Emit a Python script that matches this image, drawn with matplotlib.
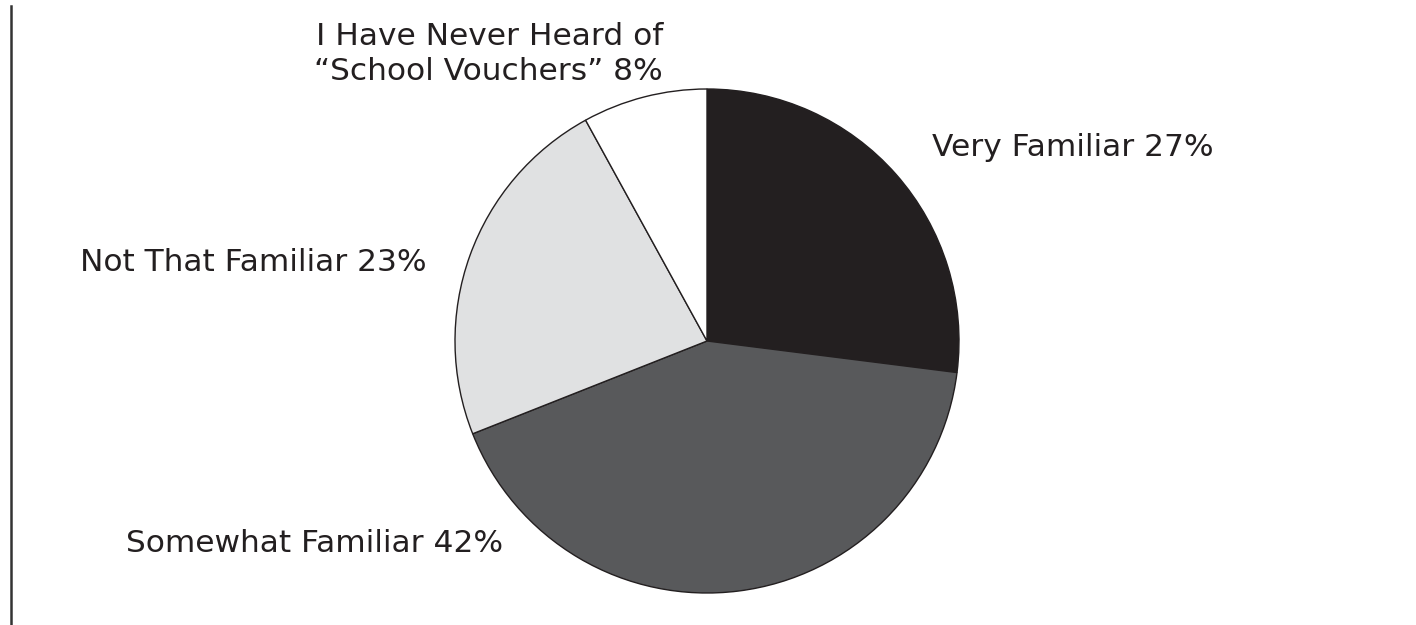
import matplotlib.pyplot as plt
from matplotlib.lines import Line2D

labels = ['Very Familiar 27%', 'Somewhat Familiar 42%', 'Not That Familiar 23%',
          'I Have Never Heard of\n\u201cSchool Vouchers\u201d 8%']
values = [27, 42, 23, 8]
colors = ['#231f20', '#58595b', '#e0e1e2', '#ffffff']

W, H = 1416, 625
fig = plt.figure(figsize=(W / 100, H / 100), dpi=100)
plt.rcParams['font.family'] = ['DejaVu Sans']

# pie centred at (707, 341) px, radius ~252 px
cx, cy, r = 707, 341, 252
ax = fig.add_axes([(cx - r) / W, (H - cy - r) / H, 2 * r / W, 2 * r / H])
ax.pie(values, colors=colors, startangle=90, counterclock=False,
       wedgeprops=dict(edgecolor='#231f20', linewidth=1.0))
ax.set_xlim(-1, 1)
ax.set_ylim(-1, 1)
ax.set_aspect('equal')
ax.axis('off')

# label anchors: x, baseline y (pixels from top-left), alignment
pos = [(932, 156, 'left'), (126, 552, 'left'), (80, 271, 'left'), (663, 45, 'right')]
for lab, (x, y, ha) in zip(labels, pos):
    for i, line in enumerate(lab.split('\n')):
        fig.text(x / W, 1 - (y + 35 * i) / H, line, ha=ha, va='baseline',
                 fontsize=22.5, color='#231f20')

# left rule
fig.add_artist(Line2D([10.5 / W, 10.5 / W], [1 - 6 / H, 0.0],
                      color='#333333', linewidth=1.8))

fig.savefig('out.png', dpi=100, facecolor='white')
